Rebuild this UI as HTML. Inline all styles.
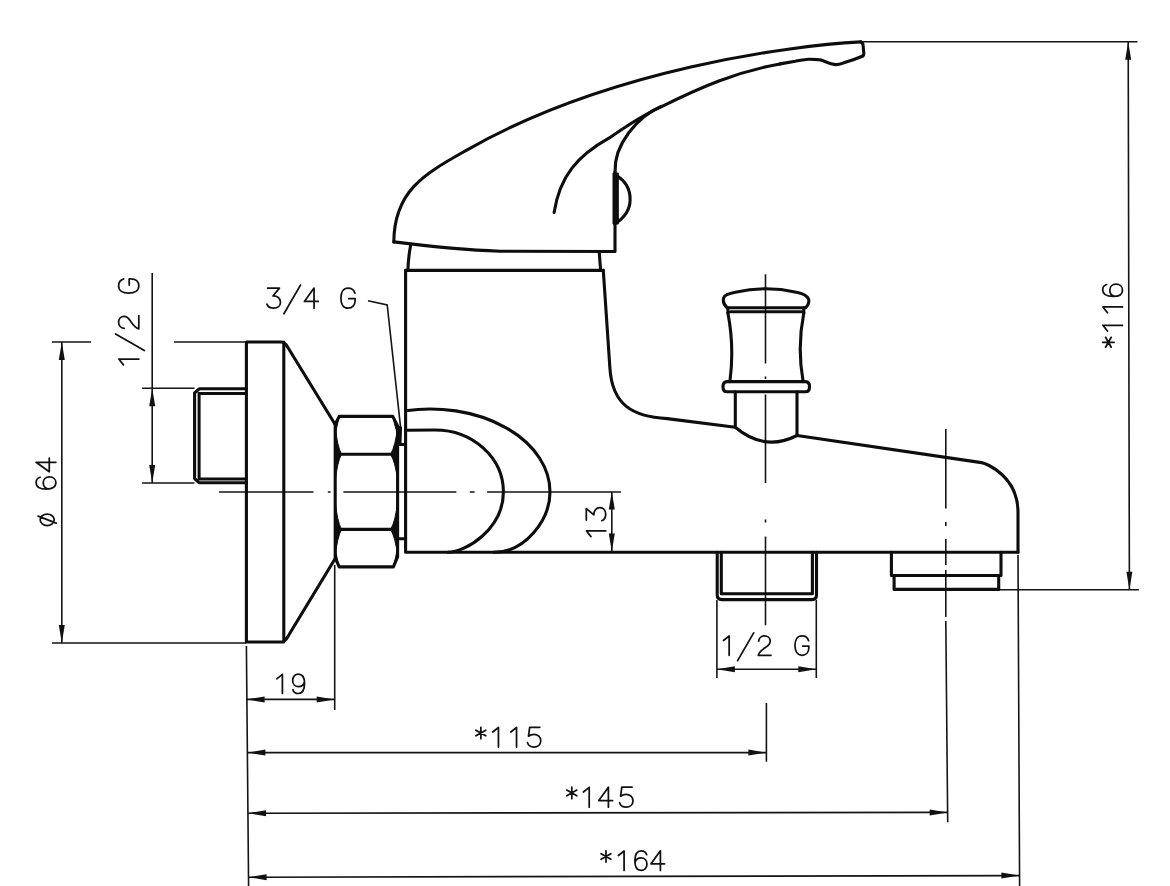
<!DOCTYPE html>
<html><head><meta charset="utf-8">
<style>
html,body{margin:0;padding:0;background:#fff;}
svg{display:block;}
</style></head>
<body>
<svg width="1170" height="886" viewBox="0 0 1170 886">
<rect width="1170" height="886" fill="#fff"/>
<g stroke="#141414" stroke-width="1.6" fill="none"><path d="M61.8 342V643M52 342H91M174 342H246M52 643H246"/><path d="M152.2 273V483M142 388.3H194.5M142 483H194.5"/><path d="M368 300.7L387.2 305L400.6 427.3"/><path d="M246 699.4H335M334.7 565V710M246.4 646L248.6 886"/><path d="M247.4 752.6H766.4M766.4 702.9V761.8"/><path d="M248 813.2L947.7 812.4"/><path d="M248.6 877.2L1019.4 875.6M1018 555L1019.6 886"/><path d="M1128.2 41.8L1129.4 589.8M862 41.8H1137.5M999 589.8H1138.9"/><path d="M611.8 492V551"/><path d="M716.9 600V678M816.3 600V678M716.9 669.2H816.3"/></g>
<g stroke="#141414" stroke-width="1.6" fill="none"><path d="M219 492H313.5M327.8 492H330.6M343.4 492H456.4M469.8 492H474.6M487.1 492H621"/><path d="M765.5 274.2V363.6M765.5 376.5V379M765.5 394.4V483M765.5 519.5V522.5M765.5 536.5V625.2"/><path d="M945.8 429V508.6M945.8 522V526M945.8 539V565M945.8 570V617M945.8 621L947.7 822.3"/></g>
<g fill="#111" stroke="none"><path d="M61.8 342.0L64.8 360.0L58.8 360.0Z"/><path d="M61.8 643.0L58.8 625.0L64.8 625.0Z"/><path d="M152.2 388.3L155.2 406.3L149.2 406.3Z"/><path d="M152.2 483.0L149.2 465.0L155.2 465.0Z"/><path d="M246.6 699.4L264.6 696.4L264.6 702.4Z"/><path d="M334.7 699.4L316.7 702.4L316.7 696.4Z"/><path d="M247.4 752.6L265.4 749.6L265.4 755.6Z"/><path d="M766.4 752.6L748.4 755.6L748.4 749.6Z"/><path d="M248.0 813.2L266.0 810.2L266.0 816.2Z"/><path d="M947.7 812.4L929.7 815.4L929.7 809.4Z"/><path d="M248.6 877.2L266.6 874.2L266.6 880.2Z"/><path d="M1019.4 875.6L1001.4 878.6L1001.4 872.6Z"/><path d="M1128.2 41.8L1131.2 59.8L1125.2 59.8Z"/><path d="M1129.4 589.8L1126.4 571.8L1132.4 571.8Z"/><path d="M611.8 491.5L614.8 509.5L608.8 509.5Z"/><path d="M611.8 551.5L608.8 533.5L614.8 533.5Z"/><path d="M716.9 669.2L734.9 666.2L734.9 672.2Z"/><path d="M816.3 669.2L798.3 672.2L798.3 666.2Z"/></g>
<g stroke="#0d0d0d" stroke-width="3.1" fill="none" stroke-linejoin="round" stroke-linecap="round"><path d="M246.4 342H280.8Q285 342 287.6 347L335.5 425M246.4 642H280.8Q285 642 287.6 637L335.5 558M246.4 342V642M283.8 342V642"/><path d="M246.4 388.8H199.2L194.6 393V478.5L199.2 482.8H246.4"/><path d="M339.2 416.4H392.8L397.6 426V557L393.4 566.9H339.2L335.2 557.9V424.3Z"/><path d="M340.3 454.2H391.1M340.9 529.4H391.1"/><path d="M397.4 444.5H405.6M397.4 538.8H405.6"/><path d="M405.6 270.4V552.3H1018"/><path d="M405.6 270.4H603.3"/><path d="M603.3 270.4L609.9 368C612.2 404.8 632.3 416.7 667.2 418.6L735.3 427.3"/><path d="M797 435.5L981.5 462.6C985.8 463.2 1018.0 475.9 1018.0 512.2V552.3"/><path d="M405.6 410.7A120 83 0 0 1 550 491.9C550.0 519.1 526.1 552.3 494.0 552.3"/><path d="M405.6 430.2L435 430A68.4 61.9 0 0 1 503.4 491.9C503.4 529.6 465.2 552.3 448.0 552.3"/><path d="M410.7 245Q408.3 257 407.9 270.4M599.2 251.5L600.6 270.4"/><path d="M393.8 241.9 C394.2 189.8 425.9 173.3 466.3 150.3 C608.5 69.3 791.3 45.4 860.8 41.9"/><path d="M860.8 41.9Q863 42.5 863.1 45.4L863.8 53.1Q864 55.5 862.3 56.2"/><path d="M862.3 56.2C858 58 848 61.6 843.1 63.1C840 64.2 838 64.8 835.4 64.6C832 64.3 829 63.4 827.7 62.7C824 60.8 821 59.7 818.5 59.6C814 59.3 811 59.1 808.5 59.2C802 59.6 798 60.6 795.4 61.2L780 63.9"/><path d="M780.0 63.9 C735.2 72.2 701.4 86.7 661.1 106.8 C642.6 115.0 625.8 126.4 609.3 137.9 C577.6 155.6 559.8 175.9 554.1 212.4"/><path d="M393.8 241.9Q455 249.5 500 251.3L615 251.5V171.6"/><path d="M615.1 171.6 C614.0 144.6 637.2 116.8 661.1 106.3"/><path d="M615.1 174.8Q630.5 183 630.1 200Q630 214 615.1 223.8"/><path d="M735.3 391.8V427.3Q764.5 452 797 435.5V391.8"/><path d="M727 381.6H805.5Q809.5 381.6 809.5 386.7Q809.5 391.8 805.5 391.8H727Q723 391.8 723 386.7Q723 381.6 727 381.6Z"/><path d="M727.9 313Q734.5 347 729.9 381.6M803.8 313Q797 347 803.1 381.6"/><path d="M730.6 311.8H801.7M727.9 307.8V313M803.8 307.8V313"/><path d="M727.2 307.8H805.8Q810 303 808.5 299Q806.5 294 796.3 292.2Q781 288.8 765.8 288.8Q750.5 288.8 735.3 292.2Q725 294 723.8 297.6Q722 303 727.2 307.8Z"/><path d="M891.4 552.3V575.5H1001V552.3M894.1 575.5V589.4H998.7V575.5"/><path d="M717.2 552.3V595Q717.2 599.6 722 599.6H812Q816.5 599.6 816.5 595V552.3M721.3 552.3V593.8H812.4V552.3"/></g>
<g stroke="#111" fill="none" stroke-linecap="round" stroke-linejoin="round"><path transform="translate(266.4 288.1) scale(1.005)" stroke-width="1.74" d="M1.2 0 H13 L6.5 7.8 C10.8 7.6 14 10.2 14 14 C14 17.8 11 20 7.2 20 C4 20 1.5 18.6 0.5 16"/><path transform="translate(283.9 288.1) scale(1.005)" stroke-width="1.74" d="M0 25.5 L16.5 -3"/><path transform="translate(304.4 288.1) scale(1.005)" stroke-width="1.74" d="M9.6 20 V0 L0 13.3 H13.8"/><path transform="translate(340.3 288.1) scale(1.005)" stroke-width="1.74" d="M14.6 5 C13.6 1.8 11 0 7.6 0 C3.2 0 0.6 4 0.6 10 C0.6 16 3.2 20 7.6 20 C12 20 14.8 17 14.8 12.2 V10.5 H8.5"/><path transform="translate(276.8 674.2) scale(0.965)" stroke-width="1.81" d="M0 4.8 L5.8 0.2 V20"/><path transform="translate(292.2 674.2) scale(0.965)" stroke-width="1.81" d="M0.8 16 C1.5 18.5 3.5 20 6.3 20 C10.5 20 12.8 16.2 12.8 9.5 C12.8 3 10.3 0 6.5 0 C2.9 0 0.5 2.7 0.5 6.5 C0.5 10.4 3 12.8 6.5 12.8 C9.5 12.8 11.9 11 12.7 8"/><path transform="translate(475.4 727.3) scale(0.990)" stroke-width="1.77" d="M5.5 0 V11.5 M0.5 2.9 L10.5 8.6 M0.5 8.6 L10.5 2.9"/><path transform="translate(492.7 727.3) scale(0.990)" stroke-width="1.77" d="M0 4.8 L5.8 0.2 V20"/><path transform="translate(510.8 727.3) scale(0.990)" stroke-width="1.77" d="M0 4.8 L5.8 0.2 V20"/><path transform="translate(526.9 727.3) scale(0.990)" stroke-width="1.77" d="M13 0 H2.8 L1.6 9 C3.2 7.8 5.2 7.2 7.2 7.2 C11 7.2 14 9.9 14 13.6 C14 17.5 11 20 7.2 20 C4 20 1.4 18.5 0.6 15.5"/><path transform="translate(566.3 787.2) scale(1.000)" stroke-width="1.75" d="M5.5 0 V11.5 M0.5 2.9 L10.5 8.6 M0.5 8.6 L10.5 2.9"/><path transform="translate(583.4 787.2) scale(1.000)" stroke-width="1.75" d="M0 4.8 L5.8 0.2 V20"/><path transform="translate(598.8 787.2) scale(1.000)" stroke-width="1.75" d="M9.6 20 V0 L0 13.3 H13.8"/><path transform="translate(619.0 787.2) scale(1.000)" stroke-width="1.75" d="M13 0 H2.8 L1.6 9 C3.2 7.8 5.2 7.2 7.2 7.2 C11 7.2 14 9.9 14 13.6 C14 17.5 11 20 7.2 20 C4 20 1.4 18.5 0.6 15.5"/><path transform="translate(600.6 850.8) scale(0.980)" stroke-width="1.79" d="M5.5 0 V11.5 M0.5 2.9 L10.5 8.6 M0.5 8.6 L10.5 2.9"/><path transform="translate(618.4 850.8) scale(0.980)" stroke-width="1.79" d="M0 4.8 L5.8 0.2 V20"/><path transform="translate(634.4 850.8) scale(0.980)" stroke-width="1.79" d="M12.5 4 C11.8 1.5 9.8 0 7 0 C2.8 0 0.5 3.8 0.5 10.5 C0.5 17 3 20 6.8 20 C10.4 20 12.8 17.3 12.8 13.5 C12.8 9.6 10.3 7.2 6.8 7.2 C3.8 7.2 1.4 9 0.6 12"/><path transform="translate(651.0 850.8) scale(0.980)" stroke-width="1.79" d="M9.6 20 V0 L0 13.3 H13.8"/><path transform="translate(723.5 635.8) scale(0.975)" stroke-width="1.79" d="M0 4.8 L5.8 0.2 V20"/><path transform="translate(737.6 635.8) scale(0.975)" stroke-width="1.79" d="M0 25.5 L16.5 -3"/><path transform="translate(757.8 635.8) scale(0.975)" stroke-width="1.79" d="M0.9 5.5 C1.1 2.2 3.6 0 6.9 0 C10.2 0 12.7 2.3 12.7 5.5 C12.7 8.3 11 9.8 8.1 11.8 C4.3 14.4 1.1 16.5 0.5 20 H13.5"/><path transform="translate(794.4 635.8) scale(0.975)" stroke-width="1.79" d="M14.6 5 C13.6 1.8 11 0 7.6 0 C3.2 0 0.6 4 0.6 10 C0.6 16 3.2 20 7.6 20 C12 20 14.8 17 14.8 12.2 V10.5 H8.5"/><path transform="translate(118.6 364.9) rotate(-90) scale(1.010)" stroke-width="1.73" d="M0 4.8 L5.8 0.2 V20"/><path transform="translate(118.6 350.6) rotate(-90) scale(1.010)" stroke-width="1.73" d="M0 25.5 L16.5 -3"/><path transform="translate(118.6 329.3) rotate(-90) scale(1.010)" stroke-width="1.73" d="M0.9 5.5 C1.1 2.2 3.6 0 6.9 0 C10.2 0 12.7 2.3 12.7 5.5 C12.7 8.3 11 9.8 8.1 11.8 C4.3 14.4 1.1 16.5 0.5 20 H13.5"/><path transform="translate(118.6 293.7) rotate(-90) scale(1.010)" stroke-width="1.73" d="M14.6 5 C13.6 1.8 11 0 7.6 0 C3.2 0 0.6 4 0.6 10 C0.6 16 3.2 20 7.6 20 C12 20 14.8 17 14.8 12.2 V10.5 H8.5"/><path transform="translate(36.1 525.6) rotate(-90) scale(0.990)" stroke-width="1.77" d="M5.8 4.1 C9 4.1 11.6 7.3 11.6 11.2 C11.6 15.1 9 18.3 5.8 18.3 C2.6 18.3 0 15.1 0 11.2 C0 7.3 2.6 4.1 5.8 4.1 Z M2.5 20.3 L9.6 2"/><path transform="translate(36.1 489.6) rotate(-90) scale(0.990)" stroke-width="1.77" d="M12.5 4 C11.8 1.5 9.8 0 7 0 C2.8 0 0.5 3.8 0.5 10.5 C0.5 17 3 20 6.8 20 C10.4 20 12.8 17.3 12.8 13.5 C12.8 9.6 10.3 7.2 6.8 7.2 C3.8 7.2 1.4 9 0.6 12"/><path transform="translate(36.1 471.8) rotate(-90) scale(0.990)" stroke-width="1.77" d="M9.6 20 V0 L0 13.3 H13.8"/><path transform="translate(1102.7 347.7) rotate(-90) scale(0.990)" stroke-width="1.77" d="M5.5 0 V11.5 M0.5 2.9 L10.5 8.6 M0.5 8.6 L10.5 2.9"/><path transform="translate(1102.7 331.0) rotate(-90) scale(0.990)" stroke-width="1.77" d="M0 4.8 L5.8 0.2 V20"/><path transform="translate(1102.7 312.7) rotate(-90) scale(0.990)" stroke-width="1.77" d="M0 4.8 L5.8 0.2 V20"/><path transform="translate(1102.7 296.9) rotate(-90) scale(0.990)" stroke-width="1.77" d="M12.5 4 C11.8 1.5 9.8 0 7 0 C2.8 0 0.5 3.8 0.5 10.5 C0.5 17 3 20 6.8 20 C10.4 20 12.8 17.3 12.8 13.5 C12.8 9.6 10.3 7.2 6.8 7.2 C3.8 7.2 1.4 9 0.6 12"/><path transform="translate(586.3 536.6) rotate(-90) scale(0.970)" stroke-width="1.80" d="M0 4.8 L5.8 0.2 V20"/><path transform="translate(586.3 521.2) rotate(-90) scale(0.970)" stroke-width="1.80" d="M1.2 0 H13 L6.5 7.8 C10.8 7.6 14 10.2 14 14 C14 17.8 11 20 7.2 20 C4 20 1.5 18.6 0.5 16"/></g>
<path d="M246.4 393.5H199.1V479H246.4" stroke="#0d0d0d" stroke-width="3" fill="none"/>
<g fill="#0d0d0d" stroke="#0d0d0d" stroke-width="1"><path d="M335.2 426.2Q337.2 446.2 341.5 454.2Q337.2 462.2 335.2 481.2Z"/><path d="M397.6 426.2Q395.6 446.2 390.5 454.2Q395.6 462.2 397.6 481.2Z"/><path d="M335.2 501.4Q337.2 521.4 341.5 529.4Q337.2 537.4 335.2 556.4Z"/><path d="M397.6 501.4Q395.6 521.4 390.5 529.4Q395.6 537.4 397.6 556.4Z"/><path d="M335.2 424.3L339.2 416.4L337.5 424Q336 430 335.2 436Z"/><path d="M397.6 426L392.8 416.4L394.5 424Q396.5 430 397.6 436Z"/><path d="M335.2 557.9L339.2 566.9L337.5 560Q336 553 335.2 548Z"/><path d="M397.6 557L393.4 566.9L395 560Q396.5 553 397.6 548Z"/><path d="M613 173V224H618.3V173Z M397.6 426L401.5 427L401 443H397.6Z"/></g>
</svg>
</body></html>
